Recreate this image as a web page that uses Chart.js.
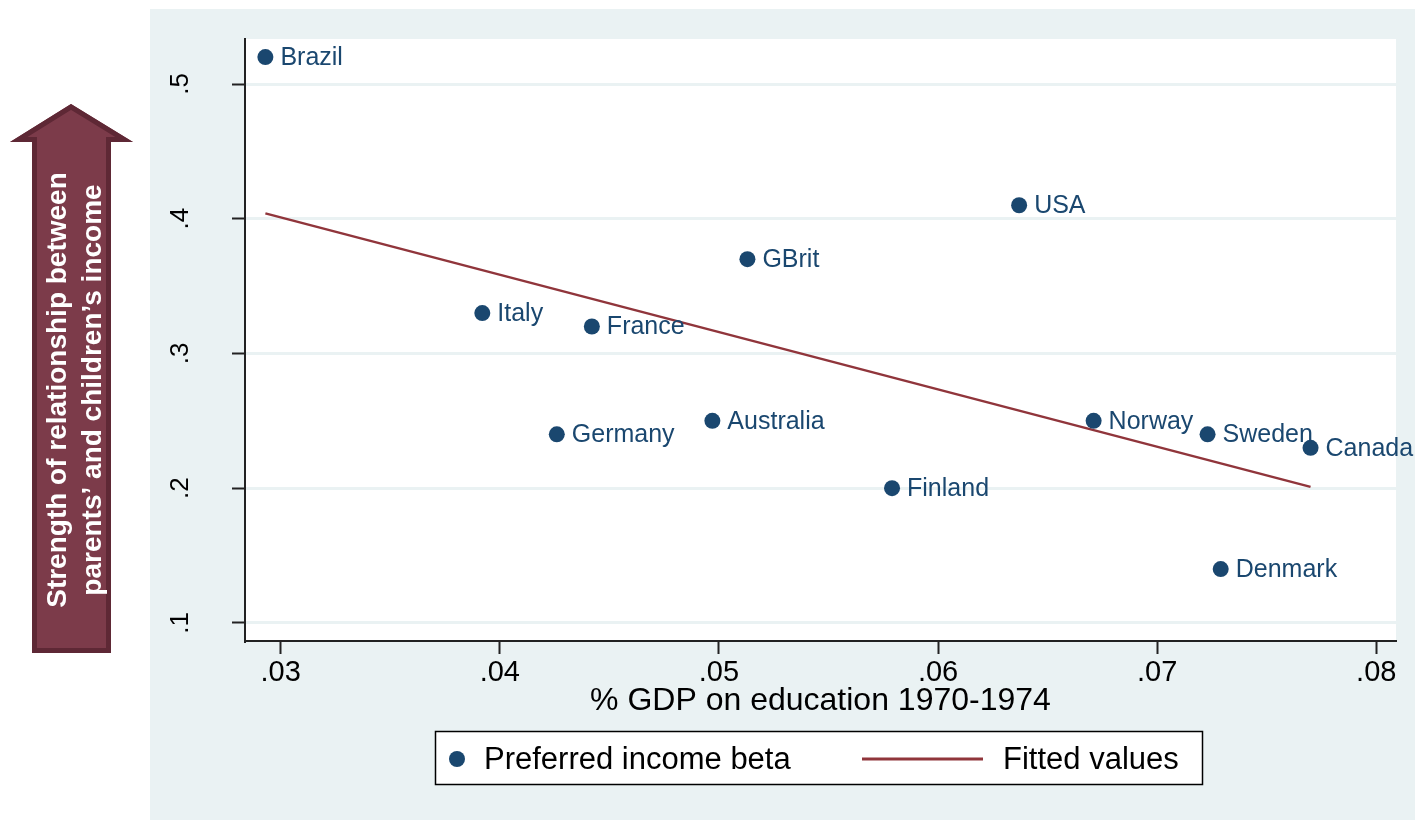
<!DOCTYPE html>
<html>
<head>
<meta charset="utf-8">
<title>Education spending and income persistence</title>
<script src="https://cdn.jsdelivr.net/npm/chart.js@4.4.1/dist/chart.umd.min.js"></script>
<style>
  html, body { margin: 0; padding: 0; background: #fff; }
  canvas { display: block; }
</style>
</head>
<body>
<canvas id="scatterChart" width="1415" height="820"></canvas>
<script>
// values
const countries = ['Brazil', 'USA', 'GBrit', 'Italy', 'France', 'Germany', 'Australia', 'Finland', 'Norway', 'Sweden', 'Canada', 'Denmark'];
const gdpEducation = [0.0293, 0.0637, 0.0513, 0.0392, 0.0442, 0.0426, 0.0497, 0.0579, 0.0671, 0.0723, 0.0770, 0.0729];
const incomeBeta = [0.52, 0.41, 0.37, 0.33, 0.32, 0.24, 0.25, 0.20, 0.25, 0.24, 0.23, 0.14];
const fittedX = [0.0293, 0.0770];
const fittedY = [0.404, 0.201];
const xTicks = [0.03, 0.04, 0.05, 0.06, 0.07, 0.08];
const xTickLabels = ['.03', '.04', '.05', '.06', '.07', '.08'];
const yTicks = [0.1, 0.2, 0.3, 0.4, 0.5];
const yTickLabels = ['.1', '.2', '.3', '.4', '.5'];
const seriesLabels = ['Preferred income beta', 'Fitted values'];
const xTitle = '% GDP on education 1970-1974';
const yTitleLines = ['Strength of relationship between', 'parents\u2019 and children\u2019s income'];

const FONT = "'Liberation Sans', Arial, sans-serif";
const NAVY = '#1a476f';
const MAROON = '#90353b';
const PANEL = '#eaf2f3';
const AXIS = '#222';

// outer panel, white plot region and the arrow on the left
const backdrop = {
    id: 'backdrop',
    beforeDraw(chart) {
        const ctx = chart.ctx;
        const a = chart.chartArea;
        ctx.save();
        ctx.fillStyle = '#fff';
        ctx.fillRect(0, 0, chart.width, chart.height);
        ctx.fillStyle = PANEL;
        ctx.fillRect(150, 9, chart.width - 150, chart.height - 9);
        ctx.fillStyle = '#fff';
        ctx.fillRect(a.left, a.top, a.right - a.left, a.bottom - a.top);

        // arrow
        ctx.beginPath();
        ctx.moveTo(71, 104);
        ctx.lineTo(133, 142);
        ctx.lineTo(111, 142);
        ctx.lineTo(111, 653);
        ctx.lineTo(32, 653);
        ctx.lineTo(32, 142);
        ctx.lineTo(10, 142);
        ctx.closePath();
        ctx.fillStyle = '#7c3b4a';
        ctx.fill();
        ctx.save();
        ctx.clip();
        ctx.lineWidth = 10;
        ctx.lineJoin = 'miter';
        ctx.strokeStyle = '#5e2835';
        ctx.stroke();
        ctx.restore();

        ctx.translate(0, 390);
        ctx.rotate(-Math.PI / 2);
        ctx.fillStyle = '#fff';
        ctx.font = 'bold 28px ' + FONT;
        ctx.textAlign = 'center';
        ctx.textBaseline = 'alphabetic';
        ctx.fillText(yTitleLines[0], 0, 66);
        ctx.fillText(yTitleLines[1], 0, 101);
        ctx.restore();
    }
};

// country names next to the markers, rotated y tick labels, boxed legend
const annotations = {
    id: 'annotations',
    afterDatasetsDraw(chart) {
        const ctx = chart.ctx;
        const meta = chart.getDatasetMeta(0);
        ctx.save();
        ctx.font = '25px ' + FONT;
        ctx.fillStyle = NAVY;
        ctx.textAlign = 'left';
        ctx.textBaseline = 'middle';
        meta.data.forEach((pt, i) => {
            ctx.fillText(countries[i], pt.x + 15, pt.y + 1);
        });
        ctx.restore();
    },
    afterDraw(chart) {
        const ctx = chart.ctx;
        const y = chart.scales.y;
        ctx.save();
        ctx.font = '26px ' + FONT;
        ctx.fillStyle = '#000';
        ctx.textAlign = 'center';
        ctx.textBaseline = 'middle';
        yTicks.forEach((v, i) => {
            ctx.save();
            ctx.translate(181, y.getPixelForValue(v));
            ctx.rotate(-Math.PI / 2);
            ctx.fillText(yTickLabels[i], 0, 0);
            ctx.restore();
        });

        // legend
        const ds = chart.data.datasets;
        ctx.fillStyle = '#fff';
        ctx.fillRect(435, 731, 768, 54);
        ctx.strokeStyle = '#000';
        ctx.lineWidth = 1.5;
        ctx.strokeRect(435.5, 731.5, 767, 53);

        ctx.beginPath();
        ctx.arc(457, 759, 8, 0, Math.PI * 2);
        ctx.fillStyle = ds[0].pointBackgroundColor;
        ctx.fill();

        ctx.beginPath();
        ctx.moveTo(862, 759);
        ctx.lineTo(983, 759);
        ctx.strokeStyle = ds[1].borderColor;
        ctx.lineWidth = 3;
        ctx.stroke();

        ctx.font = '31px ' + FONT;
        ctx.fillStyle = '#000';
        ctx.textAlign = 'left';
        ctx.fillText(ds[0].label, 484, 760);
        ctx.fillText(ds[1].label, 1003, 760);
        ctx.restore();
    }
};

const ctx = document.getElementById('scatterChart').getContext('2d');
const chart = new Chart(ctx, {
    type: 'scatter',
    data: {
        datasets: [{
            type: 'scatter',
            label: seriesLabels[0],
            data: gdpEducation.map((x, i) => ({ x: x, y: incomeBeta[i] })),
            pointRadius: 8,
            pointHoverRadius: 8,
            pointBackgroundColor: NAVY,
            pointBorderWidth: 0
        }, {
            type: 'line',
            label: seriesLabels[1],
            data: fittedX.map((x, i) => ({ x: x, y: fittedY[i] })),
            borderColor: MAROON,
            borderWidth: 2.5,
            pointRadius: 0,
            fill: false,
            tension: 0
        }]
    },
    options: {
        responsive: false,
        animation: false,
        devicePixelRatio: 1,
        layout: { padding: { left: 150, right: 19, top: 39, bottom: 100 } },
        plugins: {
            legend: { display: false },
            tooltip: { enabled: false }
        },
        scales: {
            x: {
                type: 'linear',
                min: 0.02837,
                max: 0.0809,
                afterBuildTicks: s => { s.ticks = xTicks.map(v => ({ value: v })); },
                afterFit: s => { s.height = 79; },
                ticks: {
                    callback: (v, i) => xTickLabels[i],
                    font: { family: FONT, size: 29 },
                    color: '#000',
                    padding: 2,
                    maxRotation: 0,
                    autoSkip: false
                },
                grid: { drawOnChartArea: false, tickLength: 13, tickColor: AXIS, tickWidth: 2 },
                border: { color: AXIS, width: 2 },
                title: {
                    display: true,
                    text: xTitle,
                    font: { family: FONT, size: 32 },
                    color: '#000',
                    padding: 0
                }
            },
            y: {
                type: 'linear',
                min: 0.0866,
                max: 0.5334,
                afterBuildTicks: s => { s.ticks = yTicks.map(v => ({ value: v })); },
                afterFit: s => { s.width = 95; },
                ticks: { display: false },
                grid: { color: PANEL, lineWidth: 3, tickLength: 13, tickColor: AXIS, tickWidth: 2 },
                border: { color: AXIS, width: 2 }
            }
        }
    },
    plugins: [backdrop, annotations]
});
</script>
</body>
</html>
